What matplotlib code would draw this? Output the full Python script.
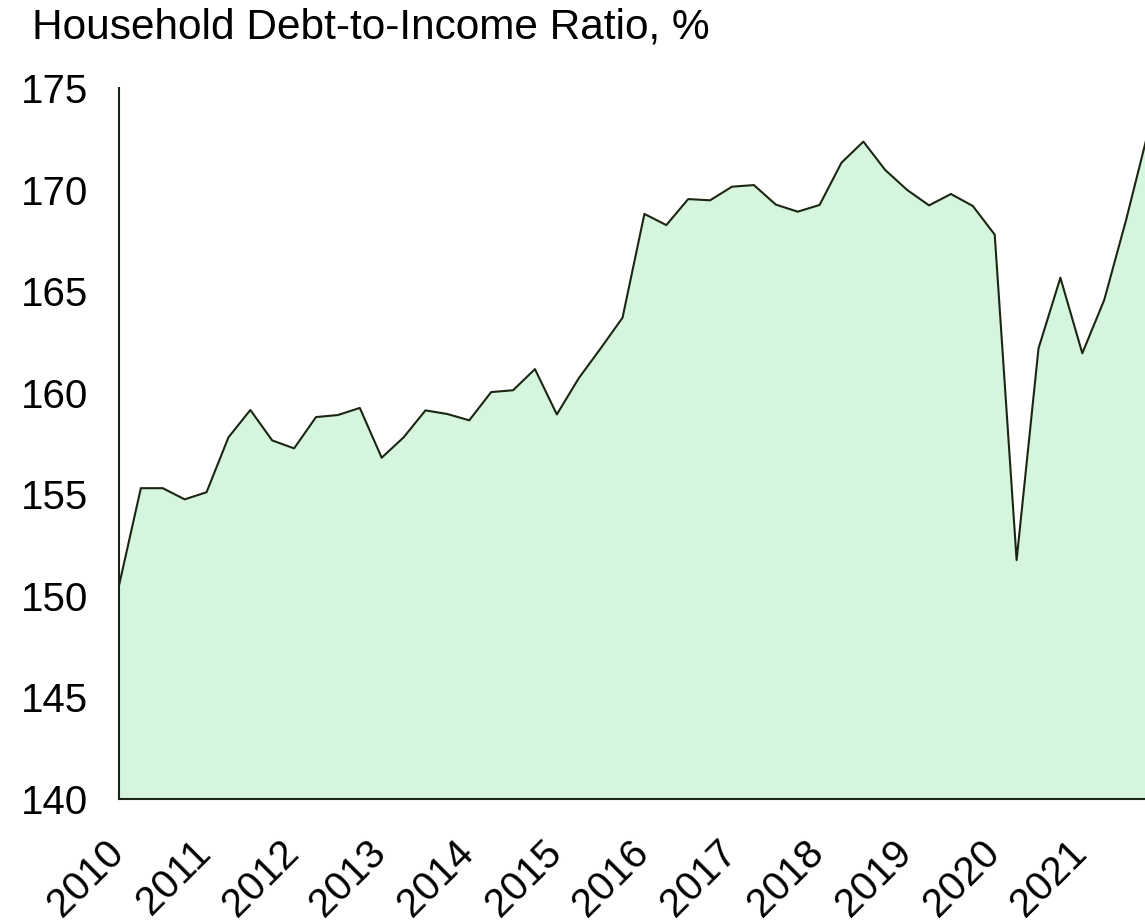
import matplotlib.pyplot as plt
import matplotlib.transforms as mtransforms
import numpy as np

plt.rcParams["font.family"] = ["Liberation Sans", "DejaVu Sans"]

# Quarterly household debt-to-income ratio, 2010 Q1 - 2021 Q4
quarters = np.arange(48)
ratio = [
    150.5, 155.3, 155.3, 154.75, 155.1, 157.8, 159.15, 157.65,
    157.26, 158.8, 158.9, 159.25, 156.8, 157.8, 159.13, 158.95,
    158.64, 160.03, 160.12, 161.16, 158.93, 160.71, 162.18, 163.69,
    168.8, 168.25, 169.53, 169.47, 170.14, 170.22, 169.26, 168.91,
    169.24, 171.32, 172.36, 170.96, 169.98, 169.22, 169.78, 169.19,
    167.78, 151.76, 162.18, 165.66, 161.94, 164.56, 168.5, 172.8,
]
years = [str(y) for y in range(2010, 2022)]
year_pos = np.arange(0, 48, 4)
y_ticks = [140, 145, 150, 155, 160, 165, 170, 175]

line_color = "#1b2612"
fill_color = "#d5f5dc"

fig = plt.figure(figsize=(11.45, 9.22), dpi=100)
ax = fig.add_axes([0.1039, 0.1334, 0.8987, 0.7712])

ax.fill_between(quarters, 140, ratio, color=fill_color, linewidth=0)
ax.plot(quarters, ratio, color=line_color, linewidth=1.5)

ax.set_xlim(0, 47)
ax.set_ylim(140, 175)
ax.set_yticks(y_ticks)
ax.set_xticks(year_pos)
ax.set_xticklabels(years, rotation=45, ha="right")

ax.tick_params(axis="y", length=0, pad=22, labelsize=29)
ax.tick_params(axis="x", length=0, pad=25, labelsize=29)

# nudge the rotated year labels to the right
shift = mtransforms.ScaledTranslation(0.12, 0, fig.dpi_scale_trans)
for lbl in ax.get_xticklabels():
    lbl.set_transform(lbl.get_transform() + shift)

for side in ["top", "right"]:
    ax.spines[side].set_visible(False)
for side in ["left", "bottom"]:
    ax.spines[side].set_color(line_color)
    ax.spines[side].set_linewidth(1.5)

fig.text(0.028, 1 - 39 / 922, "Household Debt-to-Income Ratio, %",
         fontsize=30.5, va="baseline", ha="left")

fig.savefig("out.png", dpi=100)
